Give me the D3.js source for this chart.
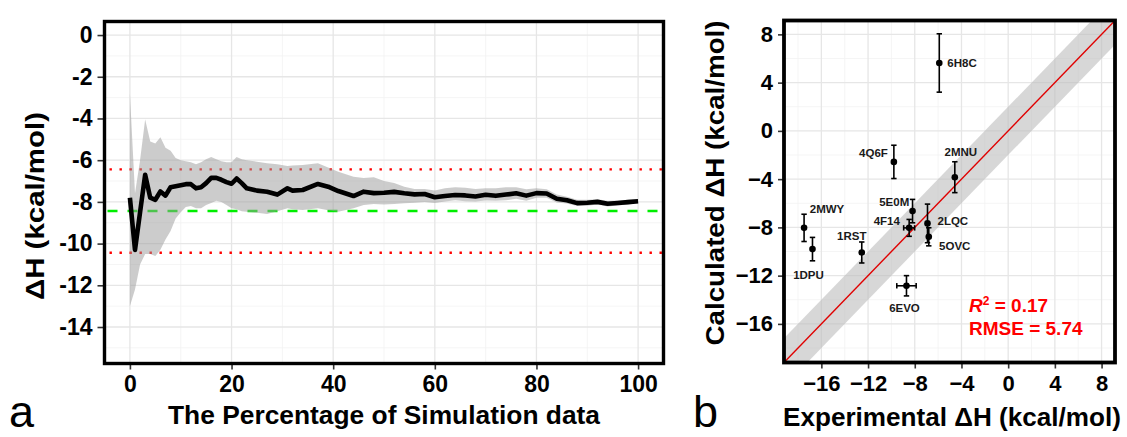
<!DOCTYPE html>
<html><head><meta charset="utf-8">
<script src="https://cdn.jsdelivr.net/npm/d3@7"></script>
<style>
html,body{margin:0;padding:0;background:#fff;}
svg{display:block;}
text{font-family:"Liberation Sans",Arial,sans-serif;}
</style></head>
<body>
<svg id="chart" width="1127" height="437"></svg>
<script>
// ---------- Panel a data ----------
const pct = [0,1,2,3,4,5,6,7,8,9,10,11,12,13,14,15,16,17,18,19,20,21,22,23,25,27,29,31,32,34,37,39,41,44,46,48,50,52,54,56,58,60,62,64,66,68,70,72,74,76,78,80,82,84,86,88,90,92,94,96,98,100];
const meanDH = [-7.8,-10.3,-8.5,-6.7,-7.8,-7.9,-7.5,-7.7,-7.3,-7.25,-7.2,-7.15,-7.15,-7.35,-7.3,-7.1,-6.85,-6.85,-6.94,-7.05,-7.13,-6.88,-7.1,-7.35,-7.46,-7.51,-7.65,-7.35,-7.46,-7.43,-7.14,-7.27,-7.48,-7.72,-7.51,-7.58,-7.56,-7.52,-7.59,-7.64,-7.62,-7.78,-7.72,-7.67,-7.69,-7.74,-7.66,-7.71,-7.65,-7.59,-7.7,-7.58,-7.6,-7.85,-7.92,-8.06,-8.04,-8.0,-8.09,-8.05,-8.01,-7.97];
const upperDH = [-2.8,-7.6,-6.0,-4.05,-5.1,-5.2,-4.9,-5.4,-5.55,-5.9,-6.0,-6.05,-6.1,-6.2,-6.1,-5.95,-5.85,-5.95,-6.05,-6.1,-6.1,-5.85,-5.95,-6.0,-6.07,-6.15,-6.2,-6.28,-6.25,-6.23,-6.15,-6.35,-6.55,-6.8,-6.85,-6.82,-7.0,-7.1,-7.27,-7.38,-7.38,-7.45,-7.35,-7.3,-7.32,-7.38,-7.35,-7.35,-7.3,-7.3,-7.4,-7.35,-7.4,-7.65,-7.75,-7.9,-7.9,-7.87,-7.95,-7.93,-7.9,-7.87];
const lowerDH = [-13.0,-12.2,-11.0,-10.5,-10.5,-10.6,-10.3,-9.8,-9.4,-8.8,-8.5,-8.25,-8.2,-8.3,-8.3,-8.15,-8.05,-7.95,-8.0,-8.15,-8.3,-8.35,-8.45,-8.47,-8.52,-8.58,-8.45,-8.3,-8.35,-8.39,-8.31,-8.4,-8.47,-8.31,-8.15,-8.1,-8.12,-8.1,-8.07,-8.04,-8.0,-8.05,-7.98,-7.92,-7.97,-7.98,-7.93,-7.95,-7.92,-7.85,-7.95,-7.8,-7.8,-8.03,-8.08,-8.2,-8.18,-8.13,-8.22,-8.17,-8.12,-8.07];
const expDH = -8.44;          // experimental value (green dashed)
const expBand = [-6.44, -10.44]; // +/- 2 kcal/mol (red dotted)
const aXTicks = [0,20,40,60,80,100];
const aYTicks = [0,-2,-4,-6,-8,-10,-12,-14];

// ---------- Panel b data ----------
const pdbIds = ["6H8C","4Q6F","2MNU","5E0M","4F14","2LQC","5OVC","2MWY","1DPU","1RST","6EVO"];
const expVals = [-5.9,-9.79,-4.57,-8.19,-8.48,-6.91,-6.8,-17.48,-16.76,-12.54,-8.71];
const calcVals = [5.63,-2.57,-3.84,-6.65,-8.04,-7.67,-8.78,-8.04,-9.8,-10.08,-12.84];
const calcErr = [2.42,1.38,1.28,0.97,0.7,1.6,0.75,1.13,0.97,0.87,0.84];
const expErr = [0,0,0,0,0.47,0,0,0,0,0,0.83];
const bTicks = [-16,-12,-8,-4,0,4,8];
const bandHalf = 2;
const statsText = ["0.17","5.74"];

// label placement (layout only)
const labelLayout = [
  {a:"start",dx:8,dy:0},{a:"end",dx:-6,dy:-9.4},{a:"middle",dx:6,dy:-25},
  {a:"end",dx:-3.3,dy:-9},{a:"end",dx:-9.3,dy:-6.7},{a:"start",dx:10,dy:-2.3},
  {a:"start",dx:10.3,dy:9.3},{a:"start",dx:5.7,dy:-18.7},{a:"middle",dx:-4,dy:26},
  {a:"middle",dx:-10,dy:-16.6},{a:"middle",dx:-2,dy:21.6}
];

const svg = d3.select("#chart");

// =============== Panel a ===============
const xa = d3.scaleLinear().domain([-5,105]).range([104.5,663.5]);
const ya = d3.scaleLinear().domain([-15.75,0.65]).range([363.5,21.5]);
const ga = svg.append("g");

// grid
const aXMinor = [10,30,50,70,90];
const aYMinor = [-1,-3,-5,-7,-9,-11,-13,-15];
ga.selectAll(".gxm").data(aXMinor).enter().append("line")
  .attr("x1",d=>xa(d)).attr("x2",d=>xa(d)).attr("y1",21.5).attr("y2",363.5)
  .attr("stroke","#f2f2f2").attr("stroke-width",0.8);
ga.selectAll(".gym").data(aYMinor).enter().append("line")
  .attr("y1",d=>ya(d)).attr("y2",d=>ya(d)).attr("x1",104.5).attr("x2",663.5)
  .attr("stroke","#f2f2f2").attr("stroke-width",0.8);
ga.selectAll(".gx").data(aXTicks).enter().append("line")
  .attr("x1",d=>xa(d)).attr("x2",d=>xa(d)).attr("y1",21.5).attr("y2",363.5)
  .attr("stroke","#e6e6e6").attr("stroke-width",1.3);
ga.selectAll(".gy").data(aYTicks).enter().append("line")
  .attr("y1",d=>ya(d)).attr("y2",d=>ya(d)).attr("x1",104.5).attr("x2",663.5)
  .attr("stroke","#e6e6e6").attr("stroke-width",1.3);

// reference lines
ga.append("line").attr("x1",xa.range()[0]).attr("x2",xa.range()[1])
  .attr("y1",ya(expDH)).attr("y2",ya(expDH))
  .attr("stroke","#00ee00").attr("stroke-width",2.6).attr("stroke-dasharray","10 10")
  .attr("stroke-dashoffset",-3);
expBand.forEach(v=>{
  ga.append("line").attr("x1",xa.range()[0]).attr("x2",xa.range()[1])
    .attr("y1",ya(v)).attr("y2",ya(v))
    .attr("stroke","#ff0000").attr("stroke-width",2.4).attr("stroke-dasharray","2.4 7.6")
    .attr("stroke-dashoffset",-5);
});

// ribbon
const rib = pct.map((p,i)=>({x:p,lo:lowerDH[i],hi:upperDH[i],m:meanDH[i]}));
ga.append("path").datum(rib)
  .attr("d",d3.area().x(d=>xa(d.x)).y0(d=>ya(d.lo)).y1(d=>ya(d.hi)))
  .attr("fill","#999999").attr("fill-opacity",0.5);
ga.append("path").datum(rib)
  .attr("d",d3.line().x(d=>xa(d.x)).y(d=>ya(d.m)))
  .attr("fill","none").attr("stroke","#000").attr("stroke-width",4.6).attr("stroke-linejoin","round");

// axes
const axA_x = d3.axisBottom(xa).tickValues(aXTicks).tickSize(6).tickPadding(6);
const axA_y = d3.axisLeft(ya).tickValues(aYTicks).tickSize(7).tickPadding(5).tickFormat(d=>d===0?"0":String(d));
const gax = ga.append("g").attr("transform","translate(0,363.5)").call(axA_x);
const gay = ga.append("g").attr("transform","translate(104.5,0)").call(axA_y);
[gax,gay].forEach(g=>{
  g.select(".domain").remove();
  g.selectAll(".tick line").attr("stroke","#333").attr("stroke-width",1.6);
  g.selectAll(".tick text").attr("fill","#000").attr("font-size",23).attr("font-weight","bold")
   .attr("font-family","'Liberation Sans',Arial,sans-serif");
});
ga.append("rect").attr("x",104.5).attr("y",21.5).attr("width",559).attr("height",342)
  .attr("fill","none").attr("stroke","#000").attr("stroke-width",3.4);

ga.append("text").attr("x",384).attr("y",424).attr("text-anchor","middle")
  .attr("font-size",25).attr("font-weight","bold")
  .attr("textLength",432).attr("lengthAdjust","spacingAndGlyphs")
  .text("The Percentage of Simulation data");
ga.append("text").attr("transform","translate(44,206) rotate(-90)").attr("text-anchor","middle")
  .attr("font-size",26).attr("font-weight","bold")
  .attr("textLength",188).attr("lengthAdjust","spacingAndGlyphs")
  .text("ΔH (kcal/mol)");
ga.append("text").attr("x",9).attr("y",427).attr("font-size",45).text("a");

// =============== Panel b ===============
const xb = d3.scaleLinear().domain([-19.2,9.15]).range([784,1115]);
const yb = d3.scaleLinear().domain([-19.2,9.15]).range([362.5,20.5]);
const gb = svg.append("g");
const bMinor = [-18,-14,-10,-6,-2,2,6];
gb.selectAll(".bxm").data(bMinor).enter().append("line")
  .attr("x1",d=>xb(d)).attr("x2",d=>xb(d)).attr("y1",20.5).attr("y2",362.5)
  .attr("stroke","#f2f2f2").attr("stroke-width",0.8);
gb.selectAll(".bym").data(bMinor).enter().append("line")
  .attr("y1",d=>yb(d)).attr("y2",d=>yb(d)).attr("x1",784).attr("x2",1115)
  .attr("stroke","#f2f2f2").attr("stroke-width",0.8);
gb.selectAll(".bx").data(bTicks).enter().append("line")
  .attr("x1",d=>xb(d)).attr("x2",d=>xb(d)).attr("y1",20.5).attr("y2",362.5)
  .attr("stroke","#e6e6e6").attr("stroke-width",1.3);
gb.selectAll(".by").data(bTicks).enter().append("line")
  .attr("y1",d=>yb(d)).attr("y2",d=>yb(d)).attr("x1",784).attr("x2",1115)
  .attr("stroke","#e6e6e6").attr("stroke-width",1.3);

// band and identity line (clipped)
svg.append("defs").append("clipPath").attr("id","clipb").append("rect")
  .attr("x",784).attr("y",20.5).attr("width",331).attr("height",342);
const dom = [-25,15];
const bandPts = dom.map(v=>({x:v,lo:v-bandHalf,hi:v+bandHalf}));
const gclip = gb.append("g").attr("clip-path","url(#clipb)");
gclip.append("path").datum(bandPts)
  .attr("d",d3.area().x(d=>xb(d.x)).y0(d=>yb(d.lo)).y1(d=>yb(d.hi)))
  .attr("fill","#bdbdbd").attr("fill-opacity",0.6);
gclip.append("path").datum(bandPts)
  .attr("d",d3.line().x(d=>xb(d.x)).y(d=>yb(d.x)))
  .attr("stroke","#e00000").attr("stroke-width",1.4).attr("fill","none");

// error bars & points
const pts = pdbIds.map((id,i)=>({id,x:expVals[i],y:calcVals[i],ey:calcErr[i],ex:expErr[i],L:labelLayout[i]}));
const gp = gb.append("g");
pts.forEach(p=>{
  gp.append("line").attr("x1",xb(p.x)).attr("x2",xb(p.x)).attr("y1",yb(p.y-p.ey)).attr("y2",yb(p.y+p.ey))
    .attr("stroke","#000").attr("stroke-width",1.6);
  [p.y-p.ey,p.y+p.ey].forEach(v=>{
    gp.append("line").attr("x1",xb(p.x)-2.7).attr("x2",xb(p.x)+2.7).attr("y1",yb(v)).attr("y2",yb(v))
      .attr("stroke","#000").attr("stroke-width",1.6);
  });
  if(p.ex>0){
    gp.append("line").attr("x1",xb(p.x-p.ex)).attr("x2",xb(p.x+p.ex)).attr("y1",yb(p.y)).attr("y2",yb(p.y))
      .attr("stroke","#000").attr("stroke-width",1.6);
    [p.x-p.ex,p.x+p.ex].forEach(v=>{
      gp.append("line").attr("x1",xb(v)).attr("x2",xb(v)).attr("y1",yb(p.y)-2.7).attr("y2",yb(p.y)+2.7)
        .attr("stroke","#000").attr("stroke-width",1.6);
    });
  }
  gp.append("circle").attr("cx",xb(p.x)).attr("cy",yb(p.y)).attr("r",3.3).attr("fill","#000");
  gp.append("text").attr("x",xb(p.x)+p.L.dx).attr("y",yb(p.y)+p.L.dy).attr("dy","0.36em")
    .attr("text-anchor",p.L.a).attr("font-size",11.5).attr("font-weight","bold").attr("fill","#1a1a1a").text(p.id);
});

// stats
const st = gb.append("g").attr("fill","#ff0000").attr("font-weight","bold").attr("font-size",19);
const t1 = st.append("text").attr("x",969).attr("y",311.5);
t1.append("tspan").attr("font-style","italic").text("R");
t1.append("tspan").attr("font-size",12).attr("dy",-7).text("2");
t1.append("tspan").attr("dy",7).text(" = " + statsText[0]);
st.append("text").attr("x",969).attr("y",335).text("RMSE = " + statsText[1]);

// axes b
const axB_x = d3.axisBottom(xb).tickValues(bTicks).tickSize(6).tickPadding(7);
const axB_y = d3.axisLeft(yb).tickValues(bTicks).tickSize(6).tickPadding(5);
const gbx = gb.append("g").attr("transform","translate(0,362.5)").call(axB_x);
const gby = gb.append("g").attr("transform","translate(784,0)").call(axB_y);
[gbx,gby].forEach(g=>{
  g.select(".domain").remove();
  g.selectAll(".tick line").attr("stroke","#333").attr("stroke-width",1.6);
  g.selectAll(".tick text").attr("fill","#000").attr("font-size",22).attr("font-weight","bold")
   .attr("font-family","'Liberation Sans',Arial,sans-serif");
});
gb.append("rect").attr("x",784).attr("y",20.5).attr("width",331).attr("height",342)
  .attr("fill","none").attr("stroke","#000").attr("stroke-width",3.8);
gb.append("text").attr("x",952).attr("y",426).attr("text-anchor","middle")
  .attr("font-size",26).attr("font-weight","bold")
  .attr("textLength",338).attr("lengthAdjust","spacingAndGlyphs")
  .text("Experimental ΔH (kcal/mol)");
gb.append("text").attr("transform","translate(724,183) rotate(-90)").attr("text-anchor","middle")
  .attr("font-size",26).attr("font-weight","bold")
  .attr("textLength",325).attr("lengthAdjust","spacingAndGlyphs")
  .text("Calculated ΔH (kcal/mol)");
gb.append("text").attr("x",693).attr("y",427).attr("font-size",45).text("b");
</script>
</body></html>
